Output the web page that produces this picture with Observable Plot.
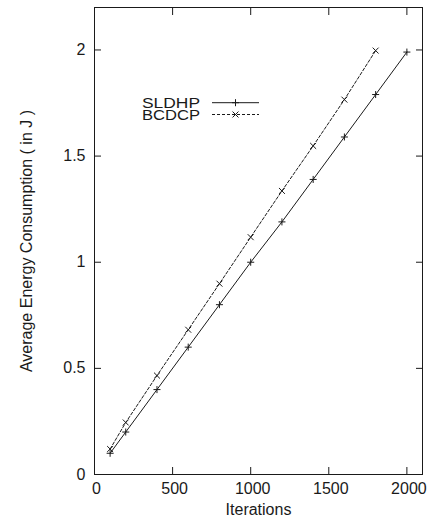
<!DOCTYPE html>
<html>
<head>
<meta charset="utf-8">
<script src="https://cdn.jsdelivr.net/npm/d3@7"></script>
<script src="https://cdn.jsdelivr.net/npm/@observablehq/plot@0.6"></script>
<style>
  html, body { margin: 0; padding: 0; background: #fff; }
  #wrap { position: relative; width: 431px; height: 519px; font-family: "Liberation Sans", Arial, sans-serif; }
  #wrap svg { position: absolute; left: 0; top: 0; }
</style>
</head>
<body>
<div id="wrap"></div>
<script>
// ---- data ----
const sldhpIter = [100, 200, 400, 600, 800, 1000, 1200, 1400, 1600, 1800, 2000];
const sldhpEnergy = [0.10, 0.20, 0.40, 0.60, 0.80, 1.00, 1.19, 1.39, 1.59, 1.79, 1.99];
const bcdcpIter = [100, 200, 400, 600, 800, 1000, 1200, 1400, 1600, 1800];
const bcdcpEnergy = [0.12, 0.245, 0.466, 0.682, 0.899, 1.118, 1.336, 1.548, 1.766, 1.997];
const seriesNames = ["SLDHP", "BCDCP"];
const xTicks = [0, 500, 1000, 1500, 2000];
const yTicks = [0, 0.5, 1, 1.5, 2];
const xLabel = "Iterations";
const yLabel = "Average Energy Consumption ( in J )";

const sldhp = sldhpIter.map((x, i) => ({x, y: sldhpEnergy[i]}));
const bcdcp = bcdcpIter.map((x, i) => ({x, y: bcdcpEnergy[i]}));

const ink = "#1a1a1a";
const font = "\"Liberation Sans\", Arial, sans-serif";
const noText = () => "";
const plain = d => String(d);

const chart = Plot.plot({
  width: 431,
  height: 519,
  marginLeft: 94,
  marginRight: 9,
  marginTop: 7,
  marginBottom: 45,
  style: {fontFamily: font, fontSize: "16px", color: ink, background: "transparent"},
  x: {domain: [0, 2100]},
  y: {domain: [0, 2.2]},
  marks: [
    Plot.frame({stroke: ink, strokeWidth: 1}),
    // tick labels
    Plot.axisX(xTicks, {anchor: "bottom", tickSize: 0, tickPadding: 8, dx: 2, label: null, fontSize: 16, tickFormat: plain}),
    Plot.axisY(yTicks, {anchor: "left", tickSize: 0, tickPadding: 9, label: null, fontSize: 16, tickFormat: plain}),
    // inward ticks on all four sides
    Plot.axisX(xTicks, {anchor: "bottom", tickSize: 7, inset: 7, tickFormat: noText, label: null, stroke: ink}),
    Plot.axisX(xTicks, {anchor: "top", tickSize: 7, inset: 7, tickFormat: noText, label: null, stroke: ink}),
    Plot.axisY(yTicks, {anchor: "left", tickSize: 7, inset: 7, tickFormat: noText, label: null, stroke: ink}),
    Plot.axisY(yTicks, {anchor: "right", tickSize: 7, inset: 7, tickFormat: noText, label: null, stroke: ink}),
    // axis titles
    Plot.text([xLabel], {frameAnchor: "bottom", text: d => d, dy: 40, fontSize: 16, fill: ink, textAnchor: "middle"}),
    Plot.text([yLabel], {frameAnchor: "left", text: d => d, rotate: -90, dx: -68, fontSize: 16, fill: ink, textAnchor: "middle"}),
    // series
    Plot.line(sldhp, {x: "x", y: "y", stroke: ink, strokeWidth: 1}),
    Plot.dot(sldhp, {x: "x", y: "y", symbol: "plus", r: 2.4, stroke: ink, strokeWidth: 1}),
    Plot.line(bcdcp, {x: "x", y: "y", stroke: ink, strokeWidth: 1, strokeDasharray: "3,2"}),
    Plot.dot(bcdcp, {x: "x", y: "y", symbol: "times", r: 2.8, stroke: ink, strokeWidth: 1})
  ]
});
document.getElementById("wrap").appendChild(chart);

// ---- legend (inside plot area, top-left) ----
const leg = d3.select("#wrap").append("svg")
  .attr("width", 431).attr("height", 519)
  .style("font-family", font).style("font-size", "15.5px");
const rowY = [102.7, 114.5];
const dashes = [null, "3,2"];
const symbols = [d3.symbolPlus, d3.symbolTimes];
const labels = leg.append("text").attr("text-anchor", "end").attr("fill", ink);
seriesNames.forEach((name, i) => {
  labels.append("tspan").attr("x", 200).attr("y", rowY[i]).attr("dy", "0.36em")
    .attr("textLength", 58).attr("lengthAdjust", "spacingAndGlyphs").text(name);
  const g = leg.append("g").attr("transform", `translate(0,${rowY[i]})`);
  g.append("line").attr("x1", 212).attr("x2", 259).attr("y1", 0).attr("y2", 0)
    .attr("stroke", ink).attr("stroke-width", 1).attr("stroke-dasharray", dashes[i]);
  g.append("path").attr("transform", "translate(235.5,0)")
    .attr("d", d3.symbol(symbols[i], i === 0 ? 2.4 * 2.4 * Math.PI : 2.8 * 2.8 * Math.PI)())
    .attr("fill", "none").attr("stroke", ink).attr("stroke-width", 1);
});
</script>
</body>
</html>
